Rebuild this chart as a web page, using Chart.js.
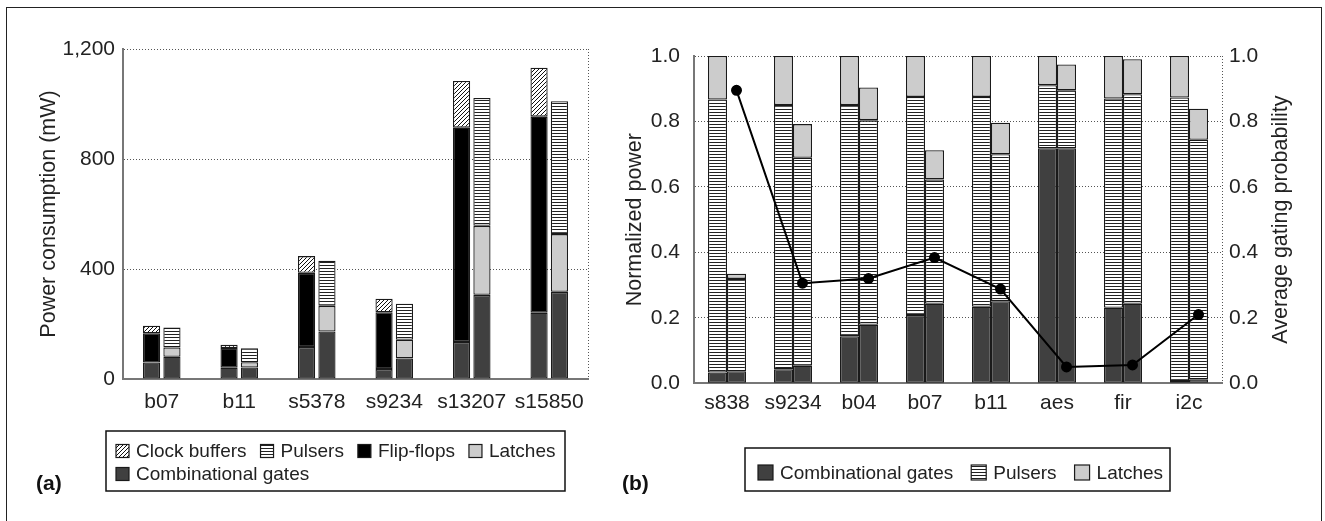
<!DOCTYPE html>
<html><head><meta charset="utf-8">
<script src="https://cdn.jsdelivr.net/npm/chart.js@4.4.1/dist/chart.umd.min.js"></script>
<style>
html,body{margin:0;padding:0;background:#fff;}
body{width:1325px;height:521px;position:relative;overflow:hidden;font-family:"Liberation Sans",Arial,sans-serif;}
#frame{position:absolute;left:6px;top:7px;width:1316px;height:600px;border:1.5px solid #222;box-sizing:border-box;}
canvas{position:absolute;top:0;}
#ca{left:0;}
#cb{left:610px;}
#cc{left:610px;}
.tag{position:absolute;font-weight:bold;font-size:21px;color:#111;line-height:1;}
</style></head><body>
<div id="frame"></div>
<canvas id="ca" width="610" height="521" style="width:610px;height:521px"></canvas>
<canvas id="cb" width="715" height="521" style="width:715px;height:521px"></canvas>
<canvas id="cc" width="715" height="521" style="width:715px;height:521px"></canvas>
<div class="tag" style="left:36px;top:472px">(a)</div>
<div class="tag" style="left:622px;top:472px">(b)</div>
<script>
// ---------- data: chart (a) ----------
const catsA = ['b07', 'b11', 's5378', 's9234', 's13207', 's15850'];
// conventional flip-flop design (left bar)
const combConvA  = [60, 41, 116, 36, 135, 241];
const ffConvA    = [106, 72, 270, 207, 779, 713];
const clockConvA = [28, 12, 61, 49, 170, 178];
// pulsed-latch design (right bar)
const combPropA   = [81, 42, 173, 75, 306, 317];
const latchPropA  = [34, 19, 93, 68, 251, 210];
const pulserPropA = [72, 51, 164, 131, 465, 483];
const ticksA = [0, 400, 800, 1200];

// ---------- data: chart (b) ----------
const catsB = ['s838', 's9234', 'b04', 'b07', 'b11', 'aes', 'fir', 'i2c'];
const combB1  = [0.033, 0.043, 0.144, 0.209, 0.234, 0.718, 0.231, 0.007];
const pulsB1  = [0.834, 0.807, 0.706, 0.666, 0.641, 0.193, 0.639, 0.866];
const latchB1 = [0.133, 0.150, 0.150, 0.125, 0.125, 0.089, 0.130, 0.127];
const combB2  = [0.037, 0.054, 0.179, 0.243, 0.251, 0.718, 0.243, 0.012];
const pulsB2  = [0.282, 0.635, 0.625, 0.380, 0.449, 0.177, 0.640, 0.732];
const latchB2 = [0.016, 0.103, 0.100, 0.089, 0.096, 0.079, 0.107, 0.095];
const gatingB = [0.895, 0.306, 0.320, 0.384, 0.288, 0.050, 0.056, 0.210];
const ticksB = [0, 0.2, 0.4, 0.6, 0.8, 1.0];

// ---------- styles ----------
const FONT = '"Liberation Sans", Arial, sans-serif';
const TXT = '#222';
const COMB = '#404040';
const LATCH = '#cccccc';
const FF = '#000000';
const EDGE = '#1a1a1a';
const GRID = '#555';
const AXIS = '#777';
Chart.defaults.font.family = FONT;
Chart.defaults.color = TXT;

function makeHatch(ctx) {
  const c = document.createElement('canvas'); c.width = 4; c.height = 4;
  const g = c.getContext('2d');
  g.fillStyle = '#fff'; g.fillRect(0, 0, 4, 4);
  g.strokeStyle = '#111'; g.lineWidth = 1;
  g.beginPath(); g.moveTo(-1, 5); g.lineTo(5, -1); g.stroke();
  g.beginPath(); g.moveTo(-1, 1); g.lineTo(1, -1); g.stroke();
  g.beginPath(); g.moveTo(3, 5); g.lineTo(5, 3); g.stroke();
  return ctx.createPattern(c, 'repeat');
}
function makeStripes(ctx) {
  const c = document.createElement('canvas'); c.width = 4; c.height = 3;
  const g = c.getContext('2d');
  g.fillStyle = '#fff'; g.fillRect(0, 0, 4, 3);
  g.fillStyle = '#222'; g.fillRect(0, 1, 4, 1);
  return ctx.createPattern(c, 'repeat');
}

// legend drawn inside a box, labels taken from the datasets
const boxLegend = {
  id: 'boxLegend',
  afterDraw(chart, args, o) {
    const ctx = chart.ctx;
    ctx.save();
    ctx.lineWidth = 1.5; ctx.strokeStyle = '#111';
    ctx.strokeRect(o.box[0], o.box[1], o.box[2], o.box[3]);
    ctx.font = o.fontSize + 'px ' + FONT;
    ctx.textBaseline = 'middle'; ctx.textAlign = 'left';
    o.rows.forEach((row, r) => {
      let x = o.x0;
      const y = o.rowY[r];
      row.forEach(label => {
        const ds = chart.data.datasets.find(d => d.label === label);
        const s = o.swatch;
        ctx.fillStyle = ds.backgroundColor;
        ctx.fillRect(x, y - s / 2, s, s);
        ctx.lineWidth = 1.2; ctx.strokeStyle = EDGE;
        ctx.strokeRect(x, y - s / 2, s, s);
        ctx.fillStyle = TXT;
        ctx.fillText(label, x + s + o.gap, y + 1);
        x += s + o.gap + ctx.measureText(label).width + o.itemGap;
      });
    });
    ctx.restore();
  }
};

// rotated title for the right axis (reads bottom to top)
const sideTitle = {
  id: 'sideTitle',
  afterDraw(chart, args, o) {
    const ctx = chart.ctx, a = chart.chartArea;
    ctx.save();
    ctx.translate(o.x, (a.top + a.bottom) / 2);
    ctx.rotate(-Math.PI / 2);
    ctx.font = o.fontSize + 'px ' + FONT;
    ctx.fillStyle = TXT; ctx.textAlign = 'center'; ctx.textBaseline = 'middle';
    ctx.fillText(o.text, 0, 0);
    ctx.restore();
  }
};

const edgeOnly = c => c.type === 'scale' ? GRID : 'rgba(0,0,0,0)';
const noZero = c => (c.tick && c.tick.value === 0) ? 'rgba(0,0,0,0)' : GRID;

// ---------- chart (a) ----------
const ctxA = document.getElementById('ca').getContext('2d');
const hatchA = makeHatch(ctxA), stripesA = makeStripes(ctxA);
new Chart(ctxA, {
  type: 'bar',
  data: {
    labels: catsA,
    datasets: [
      { label: 'Combinational gates', data: combConvA, stack: 'conv', backgroundColor: COMB },
      { label: 'Flip-flops', data: ffConvA, stack: 'conv', backgroundColor: FF },
      { label: 'Clock buffers', data: clockConvA, stack: 'conv', backgroundColor: hatchA },
      { label: 'Combinational gates', data: combPropA, stack: 'prop', backgroundColor: COMB },
      { label: 'Latches', data: latchPropA, stack: 'prop', backgroundColor: LATCH },
      { label: 'Pulsers', data: pulserPropA, stack: 'prop', backgroundColor: stripesA }
    ]
  },
  options: {
    responsive: false, animation: false,
    datasets: { bar: { borderColor: EDGE, borderWidth: 1.3, borderSkipped: false, categoryPercentage: 0.526, barPercentage: 0.843 } },
    layout: { padding: { left: 32, right: 22, top: 49, bottom: 102 } },
    scales: {
      x: {
        stacked: true,
        grid: { color: edgeOnly, lineWidth: 1, drawTicks: false },
        border: { color: AXIS, width: 2, dash: [1, 2] },
        ticks: { font: { size: 21 }, padding: 11, color: TXT },
        afterFit: s => { s.height = 40; }
      },
      y: {
        stacked: true, min: 0, max: 1200,
        afterBuildTicks: s => { s.ticks = ticksA.map(v => ({ value: v })); },
        ticks: { font: { size: 21 }, padding: 8, color: TXT },
        grid: { color: noZero, lineWidth: 1, drawTicks: false },
        border: { color: AXIS, width: 2, dash: [1, 2] },
        title: { display: true, text: 'Power consumption (mW)', font: { size: 21.5 }, color: TXT, padding: { top: 4, bottom: 4 } },
        afterFit: s => { s.width = 91; }
      }
    },
    plugins: {
      legend: { display: false }, tooltip: { enabled: false },
      boxLegend: {
        box: [106, 431, 459, 60], x0: 116, rowY: [451, 474], swatch: 13, gap: 7, itemGap: 14, fontSize: 19,
        rows: [['Clock buffers', 'Pulsers', 'Flip-flops', 'Latches'], ['Combinational gates']]
      }
    }
  },
  plugins: [boxLegend]
});

// ---------- chart (b): stacked bars ----------
const PAD_B = { left: 8, right: 10, top: 56, bottom: 97.7 };
const X_H_B = 40, YL_W_B = 76, YR_W_B = 93;
const CAT_B = 0.576;
const ctxB = document.getElementById('cb').getContext('2d');
const stripesB = makeStripes(ctxB);
new Chart(ctxB, {
  type: 'bar',
  data: {
    labels: catsB,
    datasets: [
      { label: 'Combinational gates', data: combB1, stack: 'ff', backgroundColor: COMB },
      { label: 'Pulsers', data: pulsB1, stack: 'ff', backgroundColor: stripesB },
      { label: 'Latches', data: latchB1, stack: 'ff', backgroundColor: LATCH },
      { label: 'Combinational gates', data: combB2, stack: 'gt', backgroundColor: COMB },
      { label: 'Pulsers', data: pulsB2, stack: 'gt', backgroundColor: stripesB },
      { label: 'Latches', data: latchB2, stack: 'gt', backgroundColor: LATCH }
    ]
  },
  options: {
    responsive: false, animation: false,
    datasets: { bar: { borderColor: EDGE, borderWidth: 1.3, borderSkipped: false, categoryPercentage: CAT_B, barPercentage: 1.0 } },
    layout: { padding: PAD_B },
    scales: {
      x: {
        stacked: true,
        grid: { color: edgeOnly, lineWidth: 1, drawTicks: false },
        border: { color: AXIS, width: 2, dash: [1, 2] },
        ticks: { font: { size: 21 }, padding: 7, color: TXT },
        afterFit: s => { s.height = X_H_B; }
      },
      y: {
        stacked: true, min: 0, max: 1,
        afterBuildTicks: s => { s.ticks = ticksB.map(v => ({ value: v })); },
        ticks: { font: { size: 21 }, padding: 14, color: TXT, callback: v => v.toFixed(1) },
        grid: { color: noZero, lineWidth: 1, drawTicks: false },
        border: { color: AXIS, width: 2, dash: [1, 2] },
        title: { display: true, text: 'Normalized power', font: { size: 21.5 }, color: TXT, padding: { top: 4, bottom: 4 } },
        afterFit: s => { s.width = YL_W_B; }
      },
      yr: {
        position: 'right', min: 0, max: 1,
        afterBuildTicks: s => { s.ticks = ticksB.map(v => ({ value: v })); },
        ticks: { font: { size: 21 }, padding: 7, color: TXT, callback: v => v.toFixed(1) },
        grid: { display: false, drawTicks: false },
        border: { display: false },
        afterFit: s => { s.width = YR_W_B; }
      }
    },
    plugins: {
      legend: { display: false }, tooltip: { enabled: false },
      boxLegend: {
        box: [135, 448, 425, 43], x0: 148, rowY: [472.5], swatch: 15, gap: 7, itemGap: 18, fontSize: 19,
        rows: [['Combinational gates', 'Pulsers', 'Latches']]
      },
      sideTitle: { text: 'Average gating probability', x: 671, fontSize: 21.5 }
    }
  },
  plugins: [boxLegend, sideTitle]
});

// ---------- chart (b): gating-probability line (overlay, same plot area) ----------
const lineShift = CAT_B / 4; // centre of the second bar of each group
new Chart(document.getElementById('cc').getContext('2d'), {
  type: 'line',
  data: {
    datasets: [{
      label: 'Average gating probability',
      data: gatingB.map((v, i) => ({ x: i + lineShift, y: v })),
      borderColor: '#000', borderWidth: 2, tension: 0,
      pointRadius: 4.5, pointBackgroundColor: '#000', pointBorderColor: '#000'
    }]
  },
  options: {
    responsive: false, animation: false,
    layout: { padding: { left: PAD_B.left + YL_W_B, right: PAD_B.right + YR_W_B, top: PAD_B.top, bottom: PAD_B.bottom + X_H_B } },
    scales: {
      x: { type: 'linear', display: false, bounds: 'data', min: -0.5, max: catsB.length - 0.5 },
      y: { type: 'linear', display: false, bounds: 'data', min: 0, max: 1 }
    },
    plugins: { legend: { display: false }, tooltip: { enabled: false } }
  }
});
</script>
</body></html>
